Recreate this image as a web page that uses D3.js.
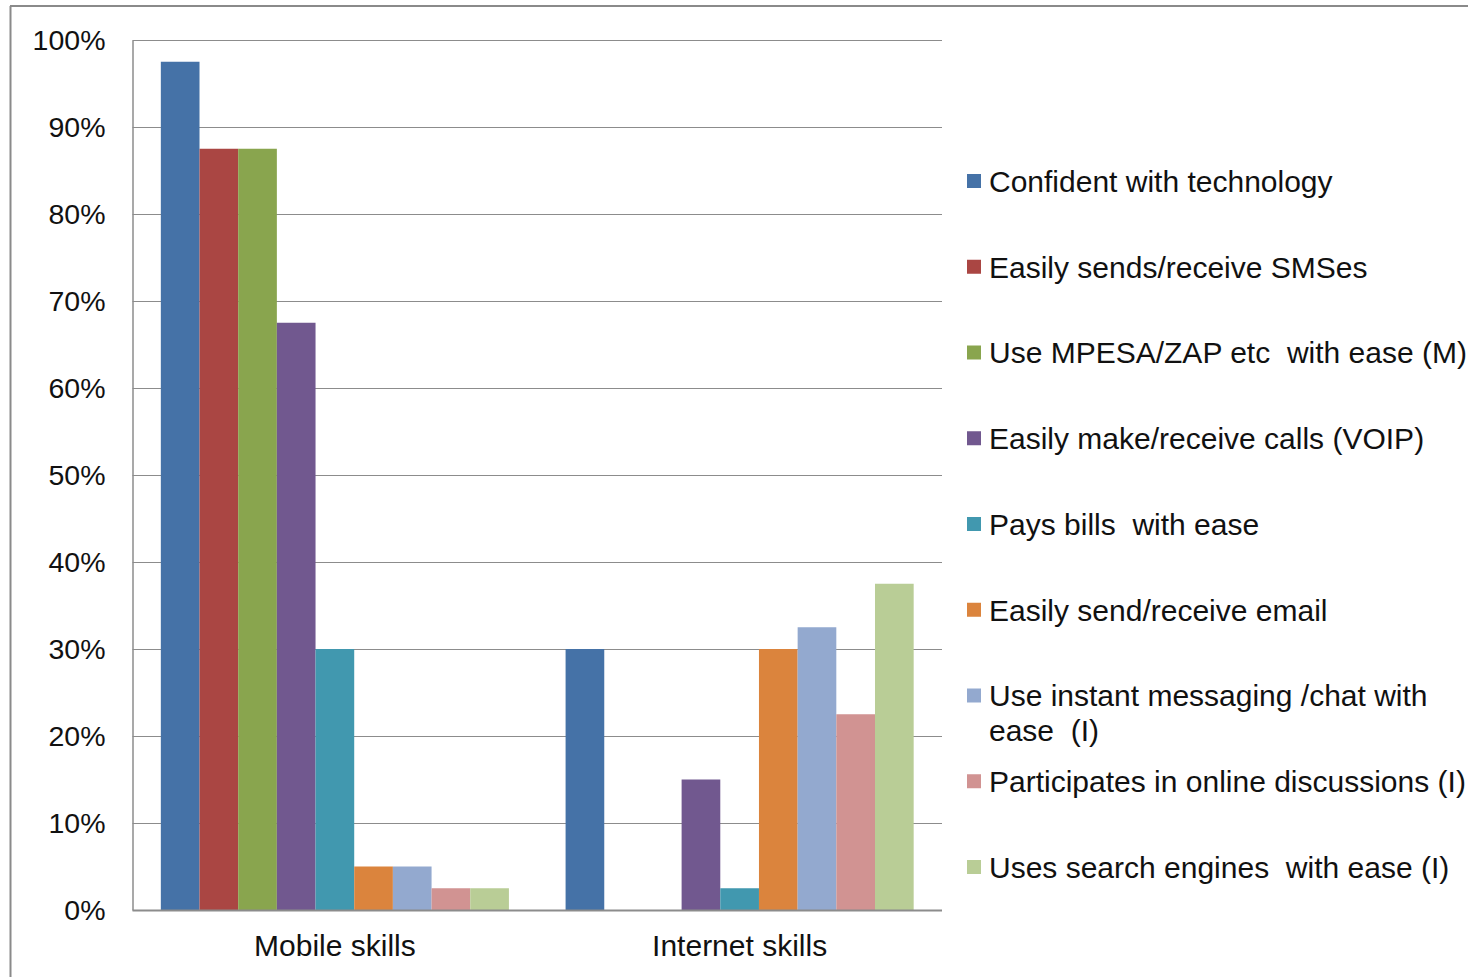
<!DOCTYPE html>
<html>
<head>
<meta charset="utf-8">
<script src="https://cdn.jsdelivr.net/npm/d3@7"></script>
<style>
  html, body { margin: 0; padding: 0; background: #fff; }
  svg { display: block; font-family: "Liberation Sans", Arial, sans-serif; }
</style>
</head>
<body>
<svg id="chart" width="1468" height="977"></svg>
<script>
// Skill categories on the x axis
const categories = ["Mobile skills", "Internet skills"];

// One series per skill measure (share of respondents)
const seriesNames = [
  "Confident with technology",
  "Easily sends/receive SMSes",
  "Use MPESA/ZAP etc  with ease (M)",
  "Easily make/receive calls (VOIP)",
  "Pays bills  with ease",
  "Easily send/receive email",
  "Use instant messaging /chat with|ease  (I)",
  "Participates in online discussions (I)",
  "Uses search engines  with ease (I)"
];
const seriesColors = ["#4572A7", "#AA4643", "#89A54E", "#71588F", "#4198AF",
                      "#DB843D", "#93A9CF", "#D19392", "#B9CD96"];

// Values per series: [Mobile skills, Internet skills]
const confident   = [0.975, 0.30];
const sms         = [0.875, 0.0];
const mpesa       = [0.875, 0.0];
const voip        = [0.675, 0.15];
const bills       = [0.30, 0.025];
const email       = [0.05, 0.30];
const chat        = [0.05, 0.325];
const discussions = [0.025, 0.225];
const search      = [0.025, 0.375];
const seriesValues = [confident, sms, mpesa, voip, bills, email, chat, discussions, search];

const yTicks = [0, 0.1, 0.2, 0.3, 0.4, 0.5, 0.6, 0.7, 0.8, 0.9, 1.0];

const svg = d3.select("#chart");

// outer frame
svg.append("line").attr("x1", 10.5).attr("x2", 10.5).attr("y1", 6).attr("y2", 977)
  .attr("stroke", "#8a8a8a").attr("stroke-width", 2);
svg.append("line").attr("x1", 10).attr("x2", 1468).attr("y1", 6).attr("y2", 6)
  .attr("stroke", "#8a8a8a").attr("stroke-width", 2);

const plot = { left: 132.5, right: 942, top: 40, bottom: 910 };

const x0 = d3.scaleBand().domain(categories).range([plot.left, plot.right]).paddingInner(0.14).paddingOuter(0.07);
const x1 = d3.scaleBand().domain(d3.range(seriesNames.length)).range([0, x0.bandwidth()]);
const y = d3.scaleLinear().domain([0, 1]).range([plot.bottom, plot.top]);

// gridlines
svg.append("g").selectAll("line").data(yTicks.slice(1)).join("line")
  .attr("x1", plot.left).attr("x2", plot.right)
  .attr("y1", d => Math.round(y(d)) + 0.5).attr("y2", d => Math.round(y(d)) + 0.5)
  .attr("stroke", "#8c8c8c").attr("stroke-width", 1);

// bars
const groups = svg.append("g").selectAll("g").data(categories).join("g")
  .attr("transform", c => `translate(${x0(c)},0)`);
groups.selectAll("rect")
  .data((c, ci) => seriesValues.map((vals, si) => ({ si, v: vals[ci] })))
  .join("rect")
  .attr("x", d => x1(d.si))
  .attr("width", x1.bandwidth())
  .attr("y", d => y(d.v))
  .attr("height", d => y(0) - y(d.v))
  .attr("fill", d => seriesColors[d.si]);

// y axis
const yAxis = svg.append("g").attr("transform", `translate(${plot.left},0)`)
  .call(d3.axisLeft(y).tickValues(yTicks).tickFormat(d3.format(".0%")).tickSize(0).tickPadding(27));
yAxis.select(".domain").attr("stroke", "#8c8c8c").attr("stroke-width", 1.5);
yAxis.selectAll("text").attr("font-size", 28.5).attr("fill", "#111")
  .attr("font-family", "'Liberation Sans', Arial, sans-serif");

// x axis
const xAxis = svg.append("g").attr("transform", `translate(0,${plot.bottom})`)
  .call(d3.axisBottom(x0).tickSize(0).tickPadding(23).tickSizeOuter(0));
xAxis.select(".domain").attr("d", `M${plot.left},0.5H${plot.right}`)
  .attr("stroke", "#8c8c8c").attr("stroke-width", 2);
xAxis.selectAll(".tick text").attr("font-size", 30).attr("fill", "#111")
  .attr("font-family", "'Liberation Sans', Arial, sans-serif")
  .attr("dy", "0.75em");

// legend
const legendTop = 181, legendStep = 85.75;
const legend = svg.append("g").selectAll("g").data(seriesNames).join("g")
  .attr("transform", (d, i) => `translate(967,${legendTop + i * legendStep})`);
legend.append("rect").attr("x", 0).attr("y", -7).attr("width", 14).attr("height", 14)
  .attr("fill", (d, i) => seriesColors[i]);
legend.append("text")
  .attr("x", 22).attr("y", 0)
  .attr("font-size", 30).attr("fill", "#111")
  .each(function(d) {
    const lines = d.split("|");
    const t = d3.select(this);
    lines.forEach((ln, k) => {
      t.append("tspan").attr("x", 22).attr("dy", k === 0 ? "0.36em" : "1.16em")
        .style("white-space", "pre").text(ln);
    });
  });
</script>
</body>
</html>
